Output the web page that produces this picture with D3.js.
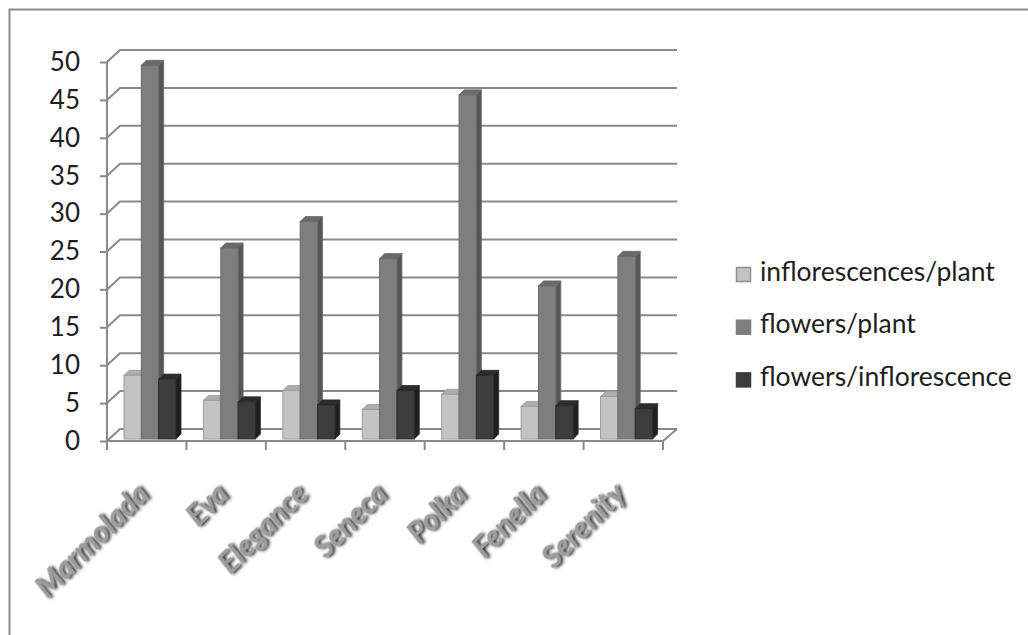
<!DOCTYPE html>
<html>
<head>
<meta charset="utf-8">
<script src="https://cdn.jsdelivr.net/npm/d3@7"></script>
<style>
  html, body { margin: 0; padding: 0; background: #fff; }
  svg { display: block; }
</style>
</head>
<body>
<svg id="chart" width="1028" height="635"></svg>
<script>
// Cultivars on the category axis
const categories = ["Marmolada", "Eva", "Elegance", "Seneca", "Polka", "Fenella", "Serenity"];
// Series names (legend order)
const seriesNames = ["inflorescences/plant", "flowers/plant", "flowers/inflorescence"];
// Series values, one per cultivar
const inflorescencesPerPlant = [8.4, 5.1, 6.4, 3.9, 5.9, 4.3, 5.6];
const flowersPerPlant = [49.3, 25.2, 28.7, 23.8, 45.4, 20.2, 24.1];
const flowersPerInflorescence = [7.9, 4.9, 4.5, 6.4, 8.4, 4.4, 4.0];
// Value axis ticks
const yTicks = [0, 5, 10, 15, 20, 25, 30, 35, 40, 45, 50];

const seriesValues = [inflorescencesPerPlant, flowersPerPlant, flowersPerInflorescence];

// Face shades per series: front, side, top
const shades = [
  { front: "#c3c3c3", side: "#9a9a9a", top: "#adadad", stroke: "#9c9c9c" },
  { front: "#7e7e7e", side: "#565656", top: "#6a6a6a", stroke: "#6a6a6a" },
  { front: "#3c3c3c", side: "#1f1f1f", top: "#2c2c2c", stroke: "#2a2a2a" }
];

const svg = d3.select("#chart");
const defs = svg.append("defs");

// Soft dark shadow behind the category labels
const f = defs.append("filter").attr("id", "lblShadow")
  .attr("x", "-20%").attr("y", "-40%").attr("width", "140%").attr("height", "180%");
f.append("feGaussianBlur").attr("in", "SourceAlpha").attr("stdDeviation", 1.5).attr("result", "b");
f.append("feOffset").attr("in", "b").attr("dx", 1.5).attr("dy", 1.5).attr("result", "o");
f.append("feFlood").attr("flood-color", "#1a1a1a").attr("flood-opacity", 0.95);
f.append("feComposite").attr("in2", "o").attr("operator", "in").attr("result", "s");
const fm = f.append("feMerge");
fm.append("feMergeNode").attr("in", "s");
fm.append("feMergeNode").attr("in", "SourceGraphic");

// Outer frame (runs off the right and bottom edges)
svg.append("rect")
  .attr("x", 9.5).attr("y", 9.5).attr("width", 1100).attr("height", 700)
  .attr("fill", "none").attr("stroke", "#8c8c8c").attr("stroke-width", 2);

// Geometry of the 3-D plot box
const depthX = 13, depthY = 12;        // offset from front plane to back wall
const x0 = d3.scaleBand().domain(categories).range([107, 663]).paddingInner(0).paddingOuter(0);
const y = d3.scaleLinear().domain([0, 50]).range([441, 62]);
const x1 = d3.scaleBand().domain(d3.range(seriesNames.length)).range([17, 69]);
const barDepth = 5;                     // visible depth of each column
const barShift = 2;                     // columns stand slightly behind the front edge

const grid = svg.append("g").attr("fill", "none").attr("stroke", "#8a8a8a").attr("stroke-width", 2);
const xLeft = x0.range()[0], xRight = x0.range()[1];

// Back-wall gridlines and left-wall diagonals
yTicks.forEach(t => {
  const yf = y(t);
  const path = d3.path();
  path.moveTo(xLeft, yf);
  path.lineTo(xLeft + depthX, yf - depthY);
  path.lineTo(xRight + depthX + 1, yf - depthY);
  grid.append("path").attr("d", path.toString());
});

// Floor right edge and front edge
{
  const p = d3.path();
  p.moveTo(xLeft, y(0));
  p.lineTo(xRight, y(0));
  p.lineTo(xRight + depthX + 1, y(0) - depthY);
  grid.append("path").attr("d", p.toString());
}

// Value axis
const yAxisG = svg.append("g").attr("transform", `translate(${xLeft},0)`);
yAxisG.call(d3.axisLeft(y).tickValues(yTicks).tickSize(7).tickPadding(20));
yAxisG.select(".domain").attr("stroke", "#8a8a8a").attr("stroke-width", 2)
  .attr("d", `M0,${y(50)}V${y(0)}`);
yAxisG.selectAll(".tick line").attr("stroke", "#8a8a8a").attr("stroke-width", 2);
yAxisG.selectAll(".tick text")
  .attr("font-family", "Lato, 'Open Sans', sans-serif")
  .attr("font-size", 26).attr("fill", "#1e1e1e");

// Category axis ticks at group boundaries
const xTickPos = categories.map(c => x0(c)).concat([xRight]);
svg.append("g").selectAll("line").data(xTickPos).join("line")
  .attr("x1", d => d).attr("x2", d => d)
  .attr("y1", y(0)).attr("y2", y(0) + 9)
  .attr("stroke", "#8a8a8a").attr("stroke-width", 2);

// Columns
const bars = svg.append("g");
categories.forEach((cat, i) => {
  seriesValues.forEach((vals, s) => {
    const v = vals[i];
    const xl = x0(cat) + x1(s);
    const w = x1.bandwidth();
    const yb = y(0) - barShift;
    const yt = y(v) - barShift;
    const sh = shades[s];
    const g = bars.append("g");
    // side face
    g.append("path")
      .attr("d", `M${xl + w},${yt}L${xl + w + barDepth},${yt - barDepth}L${xl + w + barDepth},${yb - barDepth}L${xl + w},${yb}Z`)
      .attr("fill", sh.side).attr("stroke", sh.stroke).attr("stroke-width", 0.8);
    // top face
    g.append("path")
      .attr("d", `M${xl},${yt}L${xl + barDepth},${yt - barDepth}L${xl + w + barDepth},${yt - barDepth}L${xl + w},${yt}Z`)
      .attr("fill", sh.top).attr("stroke", sh.stroke).attr("stroke-width", 0.8);
    // front face
    g.append("rect")
      .attr("x", xl).attr("y", yt).attr("width", w).attr("height", yb - yt)
      .attr("fill", sh.front).attr("stroke", sh.stroke).attr("stroke-width", 1);
  });
});

// Category labels, rotated
svg.append("g").selectAll("text").data(categories).join("text")
  .attr("transform", d => `translate(${x0(d) + x0.bandwidth() / 2 + 4},${y(0) + 55}) rotate(-45)`)
  .attr("text-anchor", "end")
  .attr("font-family", "Lato, 'Open Sans', sans-serif")
  .attr("font-weight", "bold").attr("font-style", "italic")
  .attr("font-size", 30)
  .attr("fill", "#9d9d9d")
  .attr("filter", "url(#lblShadow)")
  .text(d => d);

// Legend
const legend = svg.append("g").attr("transform", "translate(736,267)");
const items = legend.selectAll("g").data(seriesNames).join("g")
  .attr("transform", (d, i) => `translate(0,${i * 52.7})`);
items.append("rect")
  .attr("x", 0.5).attr("y", 0.5).attr("width", 14).attr("height", 14)
  .attr("fill", (d, i) => shades[i].front)
  .attr("stroke", (d, i) => i === 0 ? "#8e8e8e" : shades[i].front).attr("stroke-width", 1.5);
items.append("text")
  .attr("x", 24).attr("y", 13.5)
  .attr("font-family", "Lato, 'Open Sans', sans-serif")
  .attr("font-size", 26.5).attr("fill", "#1e1e1e")
  .text(d => d);
</script>
</body>
</html>
